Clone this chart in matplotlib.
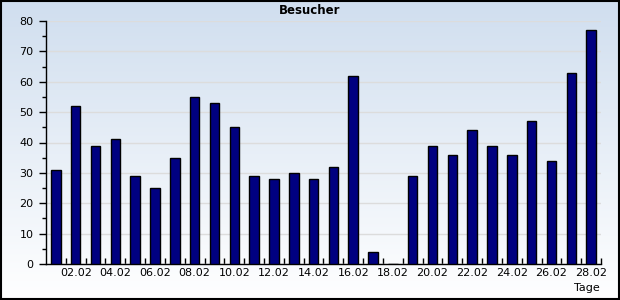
import matplotlib
matplotlib.use("Agg")
import matplotlib.pyplot as plt
import numpy as np

# visitors per day in February
days = ["%02d.02" % d for d in range(1, 29)]
visitors = [31, 52, 39, 41, 29, 25, 35, 55, 53, 45, 29, 28, 30, 28, 32, 62,
            4, 0, 29, 39, 36, 44, 39, 36, 47, 34, 63, 77]

fig = plt.figure(figsize=(6.2, 3.0), dpi=100)

# gradient background over the whole figure
bg = fig.add_axes([0, 0, 1, 1], zorder=0)
grad = np.linspace(0, 1, 256).reshape(-1, 1)
top = np.array([0.815, 0.871, 0.937])
bottom = np.array([1.0, 1.0, 1.0])
img = top + (bottom - top) * grad[..., None]
bg.imshow(img, aspect="auto", extent=[0, 1, 0, 1])
bg.set_xlim(0, 1)
bg.set_ylim(0, 1)
bg.axis("off")
fig.patches.append(plt.Rectangle((0.001, 0.002), 0.997, 0.995, transform=fig.transFigure,
                                 fill=False, edgecolor="black", linewidth=1.5, zorder=10))

ax = fig.add_axes([46 / 620, 36 / 300, 555 / 620, 243 / 300], zorder=1)
ax.patch.set_alpha(0)

x = np.arange(len(days))
ax.bar(x, visitors, width=0.48, color="#000080", edgecolor="black", linewidth=1, zorder=3)

ax.set_xlim(-0.5, len(days) - 0.5)
ax.set_ylim(0, 80)
ax.set_yticks(range(0, 81, 10))
ax.set_yticks(range(5, 80, 10), minor=True)
ax.yaxis.grid(True, color="#dcdcdc", linewidth=1, zorder=0)

# labels every second day, ticks at bar boundaries
ax.set_xticks(x[1::2])
ax.set_xticklabels(days[1::2])
ax.set_xticks(np.arange(0.5, len(days), 1), minor=True)
ax.tick_params(axis="x", which="major", length=0, pad=3, labelsize=8)
ax.tick_params(axis="x", which="minor", direction="in", length=4, width=1)
ax.tick_params(axis="y", which="major", direction="out", length=5, width=1, labelsize=8, pad=4)
ax.tick_params(axis="y", which="minor", direction="out", length=3, width=1)

for s in ["top", "right"]:
    ax.spines[s].set_visible(False)
ax.spines["left"].set_linewidth(1)
ax.spines["bottom"].set_linewidth(1)

fig.text(0.5, 1 - 11 / 300, "Besucher", ha="center", va="center", fontsize=8.5, fontweight="bold")
fig.text(587 / 620, 1 - 288 / 300, "Tage", ha="center", va="center", fontsize=8)

fig.savefig("out.png", dpi=100)
